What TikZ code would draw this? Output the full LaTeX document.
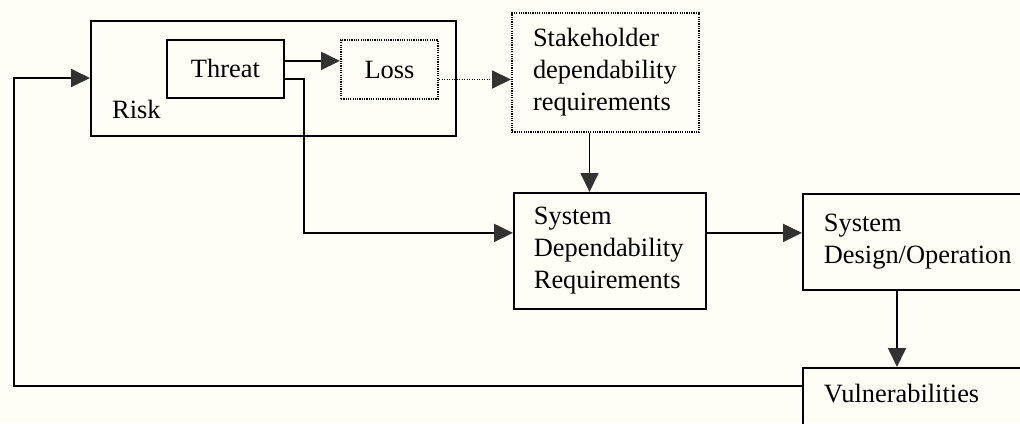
\documentclass[tikz,border=0pt]{standalone}
\usepackage{fontspec}
\setmainfont{Liberation Serif}
\usetikzlibrary{arrows.meta,calc}
\definecolor{paper}{RGB}{254,254,247}
\definecolor{tipgray}{RGB}{50,50,50}
\tikzset{
  txt/.style={font=\fontsize{26.4}{32}\selectfont},
  lbl/.style={txt, inner sep=0pt},
  solidbox/.style={txt, draw, line width=1.8pt, anchor=north west},
  dotbox/.style={solidbox, line width=2pt, dash pattern=on 1.2pt off 1.1pt},
  textbox/.style={align=left, inner ysep=0pt},
  arr/.style={line width=1.8pt,
    -{Triangle[length=19pt,width=18pt,color=tipgray,fill=tipgray]}},
  dotarr/.style={arr, dash pattern=on 1.2pt off 1.3pt},
}
\begin{document}
\begin{tikzpicture}[x=1pt,y=-1pt]
  \useasboundingbox (0,0) rectangle (1020,423);
  \fill[paper] (0,0) rectangle (1020,423);
  \clip (0,0) rectangle (1020,423);

  % risk container with its inner threat and loss boxes
  \node[solidbox, minimum width=365pt, minimum height=115pt] (risk) at (90,20) {};
  \node[lbl, anchor=base west] (risklbl) at (112,118) {Risk};
  \node[solidbox, minimum width=117pt, minimum height=58pt] (threat) at (166,39) {Threat};
  \node[dotbox, minimum width=97pt, minimum height=59pt] (loss) at (340,39) {Loss};

  % requirement, design and vulnerability boxes
  \node[dotbox, textbox, text width=145pt, inner xsep=21pt, minimum height=119pt]
    (stake) at (511,12) {Stakeholder\\dependability\\requirements};
  \node[solidbox, textbox, text width=152pt, inner xsep=20pt, minimum height=116pt]
    (sysreq) at (513,192) {System\\Dependability\\Requirements};
  \node[solidbox, textbox, text width=200pt, inner xsep=21pt, minimum height=96pt]
    (design) at (802,193) {System\\Design/Operation};
  \node[solidbox, align=left, text width=200pt, inner xsep=21pt, inner ysep=17pt,
    text height=18pt, text depth=80pt]
    (vuln) at (802,367) {Vulnerabilities};

  % connectors
  \coordinate (t1) at ([yshift=8pt]threat.east);
  \draw[arr] (t1) -- (t1 -| loss.west);

  \coordinate (t2) at ([yshift=-10pt]threat.east);
  \coordinate (s1) at ([yshift=18pt]sysreq.west);
  \draw[arr] (t2) -- ++(19,0) |- (s1);

  \coordinate (l1) at ([yshift=-10pt]loss.east);
  \draw[dotarr] (l1) -- (l1 -| stake.west);

  \coordinate (k1) at ([xshift=-16pt]stake.south);
  \draw[arr] (k1) -- (k1 |- sysreq.north);

  \coordinate (s2) at ([yshift=18pt]sysreq.east);
  \draw[arr] (s2) -- (s2 -| design.west);

  \coordinate (d1) at ([xshift=95pt]design.south west);
  \draw[arr] (d1) -- (d1 |- vuln.north);

  \coordinate (v1) at ([yshift=-19pt]vuln.north west);
  \coordinate (fb) at (14,78);
  \draw[arr] (v1) -| (fb) -- (fb -| risk.west);
\end{tikzpicture}
\end{document}
